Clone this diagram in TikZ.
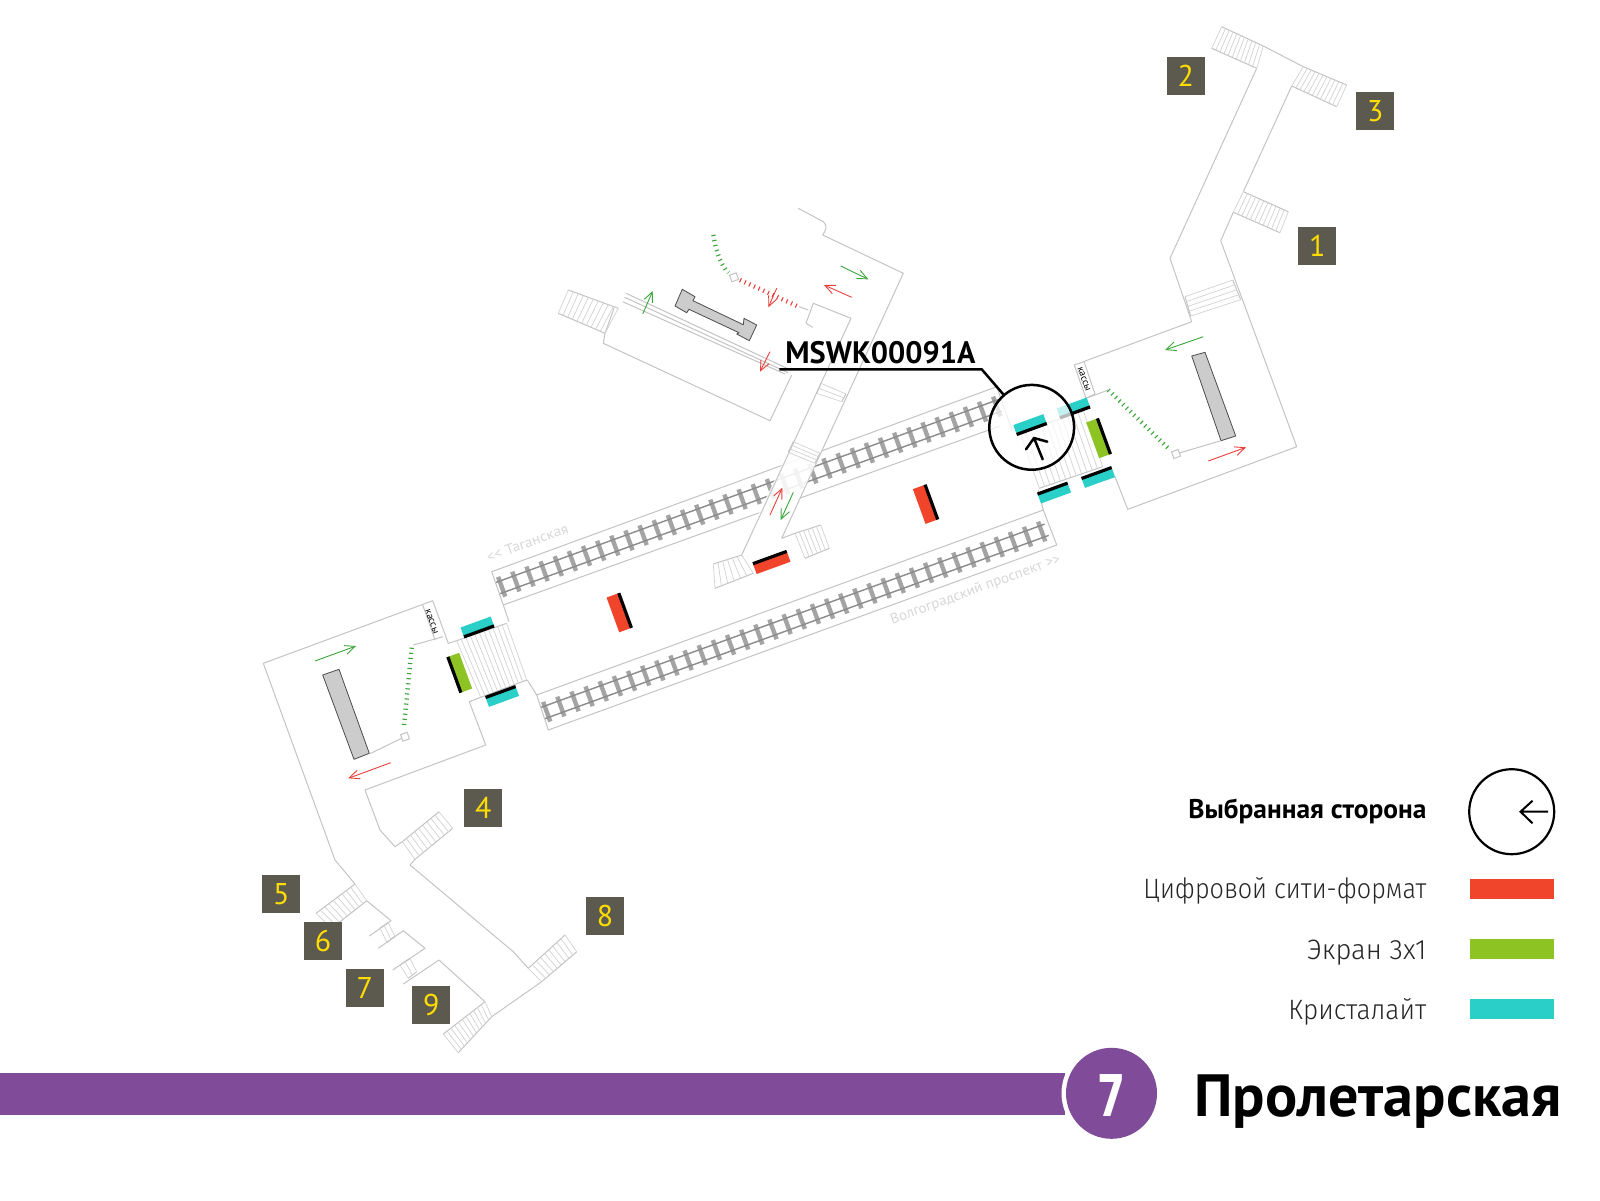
\documentclass[tikz,border=0pt]{standalone}
\usepackage{fontspec}
\usepackage{graphicx}
\setmainfont{PT Sans}
\newfontfamily\lightfont{Fira Sans Light}
\newfontfamily\heavyfont{DejaVu Sans}
\usetikzlibrary{calc,arrows.meta}
\definecolor{wallc}{HTML}{C4C4C4}
\definecolor{treadc}{HTML}{D2D2D2}
\definecolor{railc}{HTML}{A4A4A4}
\definecolor{boxc}{HTML}{5C5A4E}
\definecolor{digitc}{HTML}{FFDD00}
\definecolor{cyanp}{HTML}{2AD0C8}
\definecolor{redp}{HTML}{F0442B}
\definecolor{greenp}{HTML}{8DC424}
\definecolor{purp}{HTML}{804C99}
\definecolor{arrg}{HTML}{3BA53B}
\definecolor{arrr}{HTML}{E8403A}
\definecolor{labelg}{HTML}{D8D8D8}
\definecolor{blockc}{HTML}{CCCCCC}
\tikzset{
  wall/.style={draw=wallc,line width=0.5pt,line join=round},
  tread/.style={draw=treadc,line width=0.35pt},
  numbox/.style={fill=boxc,text=digitc,minimum size=19pt,inner sep=0pt,font=\fontsize{15}{15}\selectfont},
  panelbox/.style={inner sep=0pt,outer sep=0pt,rotate=20},
  edgeblack/.style={draw=black,line width=1.6pt},
  garrow/.style={draw=arrg,line width=0.45pt,-{Straight Barb[length=5pt,width=4.5pt]}},
  rarrow/.style={draw=arrr,line width=0.45pt,-{Straight Barb[length=5pt,width=4.5pt]}},
  gdots/.style={draw=arrg,line width=2.2pt,dash pattern=on 0.55pt off 2pt},
  rdots/.style={draw=arrr,line width=2.2pt,dash pattern=on 0.55pt off 2pt},
  block/.style={fill=blockc,draw=black!70,line width=0.4pt,line join=round},
  sqbox/.style={draw=wallc,line width=0.5pt,fill=white,minimum size=3.5pt,inner sep=0pt,rotate=20},
  glabel/.style={text=labelg,inner sep=0pt,rotate=20,font=\fontsize{7.2}{8}\selectfont},
  kassa/.style={inner sep=0pt,rotate=-70,font=\fontsize{5}{6}\selectfont},
  legendtxt/.style={inner sep=0pt,anchor=base east,text=black!85,font=\lightfont\fontsize{14}{16}\selectfont},
  legendsw/.style={minimum width=42pt,minimum height=10pt,inner sep=0pt},
  blackline/.style={draw=black,line width=1.25pt,line cap=round,line join=round}
}
\newcommand{\fitw}[2]{\resizebox{#1pt}{\height}{#2}}
\newcommand{\stairs}[5]{%
  \draw[wall] #1 -- #2 #3 -- #4;
  \foreach \k in {0,...,#5}{%
    \pgfmathsetmacro\ff{\k/#5}
    \draw[tread] ($#1!\ff!#2$) -- ($#3!\ff!#4$);}}
\newcommand{\track}[4]{% x y length count
  \begin{scope}[shift={(#1,#2)},rotate=20]
    \foreach \k in {0,...,#4}{%
      \pgfmathsetmacro\xx{\k*15.05}
      \draw[railc,line width=2.2pt] (\xx,-10.5) -- (\xx,10.5);}
    \draw[railc!85!black,line width=0.7pt] (-4,-6) -- (#3,-6) (-4,6) -- (#3,6);
  \end{scope}}
\begin{document}
\begin{tikzpicture}[x=0.5pt,y=-0.5pt]
\useasboundingbox (0,0) rectangle (1600,1200);
\fill[white] (0,0) rectangle (1600,1200);

% tracks
\track{501.7}{586.7}{530}{35}
\track{546.7}{711.7}{532}{35}
\draw[wall] (503.3,605) -- (491.7,571.7) -- (996.7,386.7) -- (1012,430);
\draw[wall] (503.3,605) -- (1000,426);
\draw[wall] (548.3,730) -- (536.7,695) -- (1043.3,510) -- (1056.7,545) -- cycle;

% crossing corridor covers the track
\fill[white,fill opacity=0.88] (851,318.3) -- (740,553.3) -- (781.7,538.3) -- (903.3,273.3) -- cycle;

% platform end connections
\draw[wall] (503.3,605) -- (509,621.7);
\draw[wall] (527.3,680) -- (536.7,695);
\draw[wall] (1043.3,510) -- (1038.3,490);

% left vestibule walls
\draw[wall] (456.7,640.7) -- (448.3,643.3) -- (432.7,600.7) -- (263.3,663.3) -- (335,860) -- (355,884);
\draw[wall] (422.7,605) -- (435,640);
\draw[wall] (413.3,645) -- (443.3,636.7);
\draw[wall] (366.7,900.7) -- (391,920.7) -- (369.3,936);
\draw[wall] (378.3,948.3) -- (403.3,930.7) -- (425,948.3) -- (392.7,970);
\draw[wall] (403.3,984) -- (439,960) -- (485,1001.7);
\draw[wall] (491.7,1016.7) -- (541.7,981.7);
\draw[wall] (528.3,968.3) -- (513.3,951.7) -- (410,865) -- (415,859.3);
\draw[wall] (402.3,841.7) -- (395,846.7) -- (380,830) -- (365,790) -- (485.7,745) -- (469.3,701.7) -- (480.7,697.3);

% left stairs
\stairs{(456.7,640.7)}{(506.7,623.3)}{(480.7,697.3)}{(526.7,680)}{11}
\stairs{(402.3,841.7)}{(439,811.7)}{(415,859.3)}{(452.7,828.3)}{9}
\stairs{(355,884)}{(316,913.3)}{(366.7,900.7)}{(331.7,928.3)}{9}
\stairs{(380,928)}{(388,922.7)}{(387,942.5)}{(395,936.3)}{2}
\stairs{(400,965)}{(410,958.3)}{(408.3,978.3)}{(416.7,971.7)}{2}
\stairs{(485,1001.7)}{(443.3,1034)}{(491.7,1016.7)}{(458.3,1052.7)}{11}
\stairs{(528.3,968.3)}{(565,935)}{(541.7,981.7)}{(576.7,951.7)}{9}

% upper hall
\draw[wall] (798.3,208.3) -- (823.3,221.7) .. controls (828,226) and (826,230) .. (822.7,235) -- (903.3,273.3) -- (781.7,538.3) -- (795,533.3);
\draw[wall] (799.3,306.7) -- (808.3,310);
\draw[wall] (812.7,327.3) -- (806,323.3) -- (813.3,303.3) -- (851,318.3) -- (741.7,555);
\draw[wall] (605,333.3) -- (603.3,343.3) -- (770,420.7) -- (791.7,375);
\draw[wall] (605,333.3) -- (614,308.3);
\draw[wall] (626,293.3) -- (790.7,370);
\draw[wall] (624.7,297.3) -- (788,372.7);
\draw[wall] (622.7,301.7) -- (785,374);
\stairs{(568.3,290)}{(618.3,308.3)}{(558.3,313.3)}{(605,333.3)}{10}
\stairs{(821,383.3)}{(816.7,393.3)}{(846,394)}{(841.7,401.7)}{2}
\stairs{(793.3,441.7)}{(788.3,452.3)}{(820,453.3)}{(815,463.3)}{3}
\stairs{(713.3,564)}{(741.7,555)}{(715,588.3)}{(753.3,573.3)}{6}
\stairs{(795,533.3)}{(820.7,525)}{(805,558.3)}{(829.3,548.3)}{6}

% escalator block upper hall
\draw[block] (682.3,289.3) -- (695,296.7) -- (693,300.7) -- (743.3,324.7) -- (744,318.3) -- (756.7,325) -- (749.3,340.7) -- (736.7,334) -- (739,332.7) -- (689,309.3) -- (686.7,312.7) -- (675,306) -- cycle;
\node[sqbox] (sqC) at (734,277.3) {};
\draw[gdots] (713.3,235) .. controls (717,256) and (722,266) .. (728.3,272.7);
\draw[rdots] (740,280) -- (800,307.3);
\coordinate (u1a) at (642.7,314); \coordinate (u1b) at (652.7,291);
\coordinate (u2a) at (770,351.7); \coordinate (u2b) at (760,371.7);
\coordinate (u3a) at (840.7,266); \coordinate (u3b) at (868.3,279.3);
\coordinate (u4a) at (851.7,297.3); \coordinate (u4b) at (824,285);
\coordinate (u5a) at (776.7,288.3); \coordinate (u5b) at (768.3,307.3);
\coordinate (u6a) at (770,515); \coordinate (u6b) at (782.3,487.7);
\coordinate (u7a) at (793.3,492.3); \coordinate (u7b) at (780.7,520);
\draw[garrow] (u1a) -- (u1b);
\draw[rarrow] (u2a) -- (u2b);
\draw[garrow] (u3a) -- (u3b);
\draw[rarrow] (u4a) -- (u4b);
\draw[rarrow] (u5a) -- (u5b);
\draw[rarrow] (u6a) -- (u6b);
\draw[garrow] (u7a) -- (u7b);

% right vestibule walls
\draw[wall] (1083.3,361.7) -- (1191.7,321.7) -- (1170,258.3) -- (1256.7,68.3);
\draw[wall] (1074.3,365) -- (1084,361.7) -- (1095,394) -- (1086,398.3) -- cycle;
\draw[wall] (1086,398.3) -- (1108.3,390);
\draw[wall] (1263.3,46) -- (1303.3,66.7);
\draw[wall] (1291.7,86) -- (1243.3,191.7);
\draw[wall] (1233.3,212.3) -- (1220.7,240.7) -- (1296.7,446.7) -- (1127.7,509.3) -- (1115,476.7) -- (1106,480);
\stairs{(1221.7,26.7)}{(1263.3,46)}{(1211.7,48.3)}{(1256.7,68.3)}{11}
\stairs{(1303.3,66.7)}{(1346.7,85)}{(1291.7,86)}{(1336.7,106.7)}{11}
\stairs{(1243.3,191.7)}{(1288.3,211.7)}{(1233.3,212.3)}{(1280,232.7)}{11}
\stairs{(1185,296.7)}{(1190.7,316)}{(1232.7,280)}{(1240.7,299.7)}{4}
\stairs{(1020,432.3)}{(1083.3,410.7)}{(1039.3,488.3)}{(1102.7,466.7)}{12}

% gates and blocks, right
\draw[block] (1191.7,356) -- (1205,352.3) -- (1235.7,436) -- (1221,440.7) -- cycle;
\node[sqbox] (sqR) at (1176,454) {};
\draw[wall] (1221,440.7) -- (sqR);
\draw[gdots] (1108.3,390) -- (1169.3,449.3);
\coordinate (r1a) at (1203.3,336.7); \coordinate (r1b) at (1165,350);
\coordinate (r2a) at (1208.3,461); \coordinate (r2b) at (1246,447.3);
\draw[garrow] (r1a) -- (r1b);
\draw[rarrow] (r2a) -- (r2b);

% gates and blocks, left
\draw[block] (322.7,675) -- (339,669.3) -- (369.3,753.3) -- (354,759.3) -- cycle;
\node[sqbox] (sqL) at (405,736.7) {};
\draw[wall] (369.3,754) -- (sqL);
\draw[gdots] (411.7,647.7) -- (404,726);
\coordinate (l1a) at (315,661); \coordinate (l1b) at (356,646);
\coordinate (l2a) at (390.7,762.7); \coordinate (l2b) at (348.3,778.3);
\draw[garrow] (l1a) -- (l1b);
\draw[rarrow] (l2a) -- (l2b);

\node[kassa] (kL) at (431.7,621.7) {кассы};
\node[kassa] (kR) at (1084,379.3) {кассы};

% panels
\node[panelbox,fill=cyanp,minimum width=16pt,minimum height=5pt] (c1) at (477.3,626.7) {};
\draw[edgeblack] (c1.south west) -- (c1.south east);
\node[panelbox,fill=cyanp,minimum width=16pt,minimum height=5pt] (c2) at (502.3,696.7) {};
\draw[edgeblack] (c2.north west) -- (c2.north east);
\node[panelbox,fill=greenp,minimum width=6pt,minimum height=19pt] (g1) at (460,672.7) {};
\draw[edgeblack] (g1.north west) -- (g1.south west);
\node[panelbox,fill=redp,minimum width=6.5pt,minimum height=18.5pt] (r1) at (619,612.7) {};
\draw[edgeblack] (r1.north east) -- (r1.south east);
\node[panelbox,fill=redp,minimum width=6.5pt,minimum height=18.5pt] (r2) at (925.3,504.3) {};
\draw[edgeblack] (r2.north east) -- (r2.south east);
\node[panelbox,fill=redp,minimum width=18pt,minimum height=5.5pt] (r3) at (771.7,562.7) {};
\draw[edgeblack] (r3.north west) -- (r3.north east);
\node[panelbox,fill=cyanp,minimum width=16pt,minimum height=5pt] (c3) at (1073.3,407.7) {};
\draw[edgeblack] (c3.south west) -- (c3.south east);
\node[panelbox,fill=cyanp,minimum width=16pt,minimum height=5pt] (c4) at (1054.3,493.3) {};
\draw[edgeblack] (c4.north west) -- (c4.north east);
\node[panelbox,fill=cyanp,minimum width=16pt,minimum height=5pt] (c5) at (1098.3,477.7) {};
\draw[edgeblack] (c5.north west) -- (c5.north east);
\node[panelbox,fill=greenp,minimum width=6pt,minimum height=19pt] (g2) at (1098.3,438.3) {};
\draw[edgeblack] (g2.north east) -- (g2.south east);

% selected side circle
\node[draw=black,line width=1.25pt,fill=white,fill opacity=0.72,draw opacity=1,circle,minimum size=42.4pt,inner sep=0pt] (sel) at (1031.7,427.3) {};
\node[panelbox,fill=cyanp,minimum width=16pt,minimum height=5pt] (c6) at (1030,424.3) {};
\draw[edgeblack] (c6.south west) -- (c6.south east);
\coordinate (s0) at (1042.7,459.3); \coordinate (s1) at (1034,438);
\coordinate (s2) at (1026,449.3); \coordinate (s3) at (1047.3,441.7);
\draw[blackline] (s0) -- (s1) (s2) -- (s1) -- (s3);

% callout
\coordinate (lead0) at (779.3,369.3);
\coordinate (lead1) at (981.7,369.3);
\draw[draw=black,line width=1.25pt,line join=miter] (lead0) -- (lead1) -- (sel);
\node[inner sep=0pt,anchor=base west,font=\bfseries\fontsize{15.5}{16}\selectfont] (code) at (785,363) {\fitw{95}{MSWK00091A}};

% grey direction labels
\node[glabel] (tag) at (527.3,542.7) {\fitw{43}{<{}< Таганская}};
\node[glabel] (volg) at (975.7,590) {\fitw{90}{Волгоградский проспект >{}>}};

% numbered exits
\node[numbox] (n1) at (1317.3,245.7) {1};
\node[numbox] (n2) at (1185.8,76.3) {2};
\node[numbox] (n3) at (1375.2,111.3) {3};
\node[numbox] (n4) at (483.2,807.8) {4};
\node[numbox] (n5) at (281.3,894.3) {5};
\node[numbox] (n6) at (323,941.3) {6};
\node[numbox] (n7) at (364.7,988.3) {7};
\node[numbox] (n8) at (605,916.4) {8};
\node[numbox] (n9) at (431.2,1005) {9};

% legend
\node[inner sep=0pt,anchor=base east,font=\bfseries\fontsize{13.5}{15}\selectfont] (lg0) at (1426.8,818.3) {\fitw{119}{Выбранная сторона}};
\node[draw=black,line width=1.1pt,circle,minimum size=42.5pt,inner sep=0pt] (lc) at (1511.7,811.7) {};
\coordinate (la0) at (1548,811.7); \coordinate (la1) at (1520.5,811.7);
\coordinate (la2) at (1532.5,800.7); \coordinate (la3) at (1532.5,823.3);
\draw[black,line width=1pt] (la0) -- (la1) (la2) -- (la1) -- (la3);
\node[legendtxt] (lg1) at (1426.8,898) {\fitw{141.5}{Цифровой сити-формат}};
\node[legendtxt] (lg2) at (1426.8,959) {\fitw{59.5}{Экран 3х1}};
\node[legendtxt] (lg3) at (1426.8,1019) {\fitw{69}{Кристалайт}};
\node[legendsw,fill=redp] (sw1) at (1511.7,889) {};
\node[legendsw,fill=greenp] (sw2) at (1511.7,949) {};
\node[legendsw,fill=cyanp] (sw3) at (1511.7,1009) {};

% line bar
\fill[purp] (0,1072.7) rectangle (1065,1115);
\node[circle,fill=white,minimum size=50pt,inner sep=0pt] (ring) at (1111.5,1093.3) {};
\node[circle,fill=purp,minimum size=45.5pt,inner sep=0pt] (lnum) at (1111.5,1093.3) {};
\node[inner sep=0pt,anchor=base,text=white,font=\heavyfont\bfseries\fontsize{28.8}{30}\selectfont] (seven) at (1111.5,1116.7) {\fitw{14}{7}};
\node[inner sep=0pt,anchor=base west,font=\bfseries\fontsize{29.8}{30}\selectfont] (title) at (1194,1116.7) {\fitw{183.5}{Пролетарская}};
\end{tikzpicture}
\end{document}
